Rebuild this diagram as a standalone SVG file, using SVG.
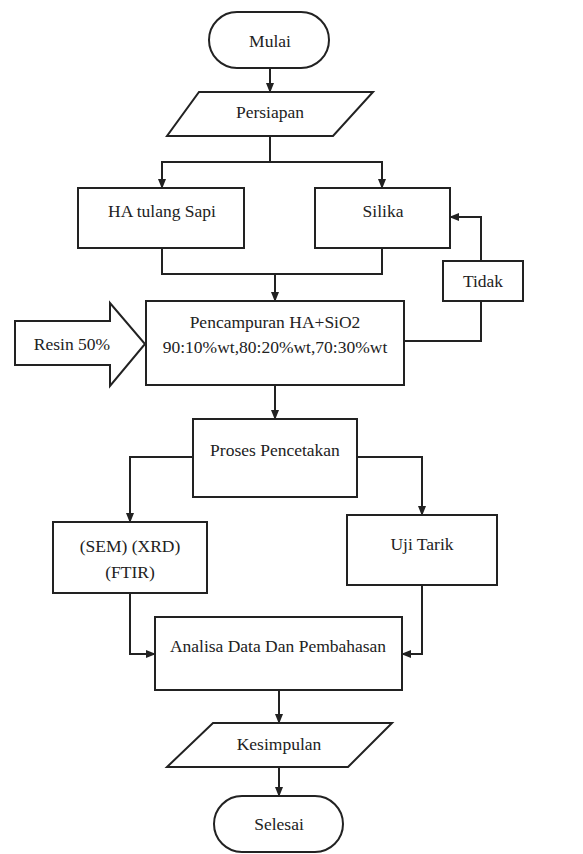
<svg xmlns="http://www.w3.org/2000/svg" width="583" height="854" viewBox="0 0 583 854" font-family="'Liberation Serif', 'Times New Roman', Times, 'DejaVu Serif', serif">
<style>
.s{fill:#fff;stroke:#222;stroke-width:2}
.c{fill:none;stroke:#222;stroke-width:2}
.t{font-family:'Liberation Serif','Times New Roman',Times,'DejaVu Serif',serif;font-size:17.5px;fill:#222;text-anchor:middle}
</style>
<defs>
<marker id="ah" markerUnits="userSpaceOnUse" markerWidth="10" markerHeight="10" viewBox="0 0 10 10" refX="9" refY="5" orient="auto">
<path d="M0,1 L10,5 L0,9 Z" fill="#222"/>
</marker>
</defs>
<rect width="583" height="854" fill="#fff"/>
<g id="connectors">
<path class="c" d="M270,68 V92" marker-end="url(#ah)"/>
<path class="c" d="M270,136 V162 H162 V188" marker-end="url(#ah)"/>
<path class="c" d="M270,162 H382 V188" marker-end="url(#ah)"/>
<path class="c" d="M162,248 V274 H275 V301" marker-end="url(#ah)"/>
<path class="c" d="M382,248 V274 H275"/>
<path class="c" d="M404,341 H481 V301"/>
<path class="c" d="M481,261 V217 H450" marker-end="url(#ah)"/>
<path class="c" d="M275,385 V419" marker-end="url(#ah)"/>
<path class="c" d="M193,457 H130 V522" marker-end="url(#ah)"/>
<path class="c" d="M357,457 H422 V515" marker-end="url(#ah)"/>
<path class="c" d="M130,593 V654 H155" marker-end="url(#ah)"/>
<path class="c" d="M422,585 V654 H402" marker-end="url(#ah)"/>
<path class="c" d="M279,690 V723" marker-end="url(#ah)"/>
<path class="c" d="M279,767 V796" marker-end="url(#ah)"/>
</g>
<g id="mulai">
<rect class="s" x="209" y="12" width="120" height="56" rx="28"/>
<text class="t" x="270" y="47">Mulai</text>
</g>
<g id="persiapan">
<polygon class="s" points="199,92 373,92 333,136 167,136"/>
<text class="t" x="270" y="118">Persiapan</text>
</g>
<g id="ha">
<rect class="s" x="78" y="188" width="166" height="60"/>
<text class="t" x="162" y="217">HA tulang Sapi</text>
</g>
<g id="silika">
<rect class="s" x="315" y="188" width="135" height="60"/>
<text class="t" x="383" y="217">Silika</text>
</g>
<g id="tidak">
<rect class="s" x="443" y="261" width="80" height="40"/>
<text class="t" x="483" y="287">Tidak</text>
</g>
<g id="resin">
<polygon class="s" points="15,321 110,321 110,303 145,344 110,386 110,365 15,365"/>
<text class="t" x="72" y="350">Resin 50%</text>
</g>
<g id="pencampuran">
<rect class="s" x="146" y="301" width="258" height="84"/>
<text class="t" x="275" y="328">Pencampuran HA+SiO2</text>
<text class="t" x="275" y="353">90:10%wt,80:20%wt,70:30%wt</text>
</g>
<g id="proses">
<rect class="s" x="193" y="419" width="164" height="78"/>
<text class="t" x="275" y="456">Proses Pencetakan</text>
</g>
<g id="sem">
<rect class="s" x="53" y="522" width="154" height="71"/>
<text class="t" x="130" y="552">(SEM) (XRD)</text>
<text class="t" x="130" y="578">(FTIR)</text>
</g>
<g id="uji">
<rect class="s" x="347" y="515" width="150" height="70"/>
<text class="t" x="422" y="550">Uji Tarik</text>
</g>
<g id="analisa">
<rect class="s" x="155" y="617" width="247" height="73"/>
<text class="t" x="278" y="652">Analisa Data Dan Pembahasan</text>
</g>
<g id="kesimpulan">
<polygon class="s" points="213,723 392,723 348,767 167,767"/>
<text class="t" x="279" y="750">Kesimpulan</text>
</g>
<g id="selesai">
<rect class="s" x="214" y="796" width="129" height="56" rx="28"/>
<text class="t" x="279" y="830">Selesai</text>
</g>
</svg>
